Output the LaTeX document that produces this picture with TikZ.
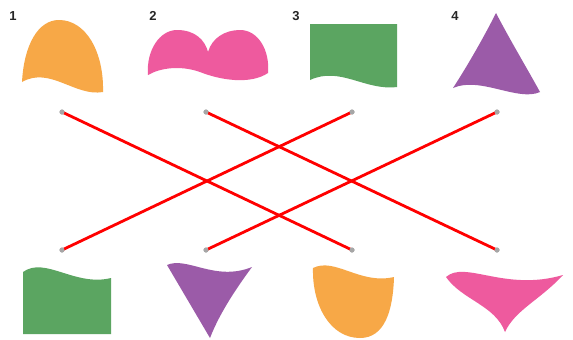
\documentclass[tikz,border=0pt]{standalone}
\usepackage{fontspec}
\setmainfont{Liberation Sans}
\begin{document}
\begin{tikzpicture}[x=1pt,y=-1pt,
  lbl/.style={font=\fontsize{13}{13}\selectfont\bfseries, text=black!85, inner sep=0pt},
  dotn/.style={circle, fill=gray!70, inner sep=0pt, minimum size=5pt},
  link/.style={draw=red, line width=2.8pt}]
\definecolor{cor}{HTML}{F7A847}
\definecolor{cpk}{HTML}{EE5A9E}
\definecolor{cgr}{HTML}{5BA561}
\definecolor{cpu}{HTML}{9B5BA8}
\useasboundingbox (0,0) rectangle (573,340);
\fill[white] (0,0) rectangle (573,340);
% labels
\node[lbl] (l1) at (13,16) {1};
\node[lbl] (l2) at (153,16) {2};
\node[lbl] (l3) at (296,16) {3};
\node[lbl] (l4) at (455,16) {4};
% top shapes
\fill[cor] (22,82) .. controls (24,45) and (38,20) .. (59,20)
  .. controls (86,20) and (104,52) .. (103,92)
  .. controls (75,97) and (50,66) .. (22,82) -- cycle;
\fill[cpk] (148,75) .. controls (146,50) and (160,30) .. (177,30)
  .. controls (195,30) and (205,40) .. (208,52)
  .. controls (212,38) and (225,30) .. (240,30)
  .. controls (258,30) and (270,50) .. (268,73)
  .. controls (250,85) and (220,80) .. (200,72)
  .. controls (180,65) and (160,68) .. (148,75) -- cycle;
\fill[cgr] (310,24) -- (397,24) -- (397,87)
  .. controls (365,91) and (340,66) .. (310,80) -- cycle;
\fill[cpu] (496,13) .. controls (510,40) and (528,70) .. (540,92)
  .. controls (518,102) and (480,76) .. (453,88)
  .. controls (468,65) and (485,35) .. (496,13) -- cycle;
% bottom shapes
\fill[cgr] (23,272) .. controls (45,256) and (75,287) .. (111,278)
  -- (111,334) -- (23,334) -- cycle;
\fill[cpu] (167,265) .. controls (187,256) and (215,282) .. (252,267)
  .. controls (238,286) and (220,312) .. (210,338) -- cycle;
\fill[cor] (313,268) .. controls (335,257) and (360,285) .. (394,277)
  .. controls (393,310) and (385,338) .. (360,338)
  .. controls (330,338) and (312,305) .. (313,268) -- cycle;
\fill[cpk] (446,277) .. controls (465,260) and (505,292) .. (563,275)
  .. controls (540,300) and (515,310) .. (505,332)
  .. controls (495,305) and (462,300) .. (446,277) -- cycle;
% dots
\node[dotn] (t1) at (62,112) {};
\node[dotn] (t2) at (206,112) {};
\node[dotn] (t3) at (352,112) {};
\node[dotn] (t4) at (497,112) {};
\node[dotn] (b1) at (62,250) {};
\node[dotn] (b2) at (206,250) {};
\node[dotn] (b3) at (352,250) {};
\node[dotn] (b4) at (497,250) {};
% connectors
\draw[link] (t1.center) -- (b3.center);
\draw[link] (t2.center) -- (b4.center);
\draw[link] (t3.center) -- (b1.center);
\draw[link] (t4.center) -- (b2.center);
% redraw dot caps
\foreach \n in {t1,t2,t3,t4,b1,b2,b3,b4}{\fill[gray!70] (\n.center) circle (2.5pt);}
\end{tikzpicture}
\end{document}
